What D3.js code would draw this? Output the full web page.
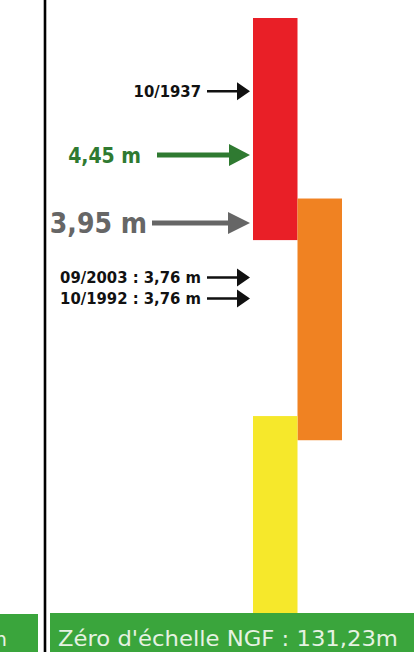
<!DOCTYPE html>
<html>
<head>
<meta charset="utf-8">
<title>Vigilance crues</title>
<script src="https://cdn.jsdelivr.net/npm/d3@7"></script>
<style>
body { margin: 0; background: #fff; }
svg { display: block; font-family: "DejaVu Sans", Verdana, sans-serif; }
.ann text { font-family: "DejaVu Sans Condensed", "DejaVu Sans", sans-serif; }
</style>
</head>
<body>
<script>

// niveaux (m a l'echelle)
var barNames = ["rouge", "orange", "jaune"];
var barColumns = ["A", "B", "A"];
var barTops = [5.46, 4.13, 2.70];
var barBottoms = [3.90, 2.50, 1.07];

// reperes
var annLabels = ["10/1937", "4,45 m", "3,95 m", "09/2003 : 3,76 m", "10/1992 : 3,76 m"];
var annValues = [4.92, 4.45, 3.95, 3.76, 3.76];
var annKinds = ["crue", "seuil", "actuel", "crue", "crue"];

var zeroLabel = "Zéro d'échelle NGF : 131,23m";

var W = 414, H = 652;

var colors = {rouge: "#e91f27", orange: "#f08222", jaune: "#f6e82b"};

var svg = d3.select("body").append("svg")
    .attr("width", W)
    .attr("height", H);

// echelle schematique (pas lineaire sur toute la hauteur)
var y = d3.scaleLinear()
    .domain([1.07, 3.76, 3.95, 4.45, 5.46])
    .range([613, 288, 223, 155, 18]);

var x = d3.scaleBand()
    .domain(["A", "B"])
    .range([253, 342])
    .padding(0);

// barres
svg.selectAll("rect.bar")
    .data(barNames)
  .enter().append("rect")
    .attr("class", "bar")
    .attr("x", function(d, i) { return x(barColumns[i]); })
    .attr("width", x.bandwidth())
    .attr("y", function(d, i) { return y(barTops[i]); })
    .attr("height", function(d, i) { return y(barBottoms[i]) - y(barTops[i]); })
    .attr("fill", function(d) { return colors[d]; });

// styles des reperes
var styles = {
  crue:   {color: "#111", size: 16.5, shaft: 2.4, head: 9, headLen: 13, x0: 207, gap: 6},
  seuil:  {color: "#2f7a31", size: 21, shaft: 5, head: 11, headLen: 21, x0: 157, gap: 16},
  actuel: {color: "#666666", size: 28, shaft: 5, head: 11, headLen: 22, x0: 152, gap: 5}
};

// decalage vertical des reperes de meme valeur
var offsets = annValues.map(function(v, i) {
  var same = annValues.filter(function(w) { return w === v; }).length;
  var idx = annValues.slice(0, i).filter(function(w) { return w === v; }).length;
  return same > 1 ? (idx - (same - 1) / 2) * 21 : 0;
});

var tipX = 250;

var ann = svg.selectAll("g.ann")
    .data(annLabels)
  .enter().append("g")
    .attr("class", "ann")
    .attr("transform", function(d, i) { return "translate(0," + (y(annValues[i]) + offsets[i]) + ")"; });

ann.append("path")
    .attr("d", function(d, i) {
      var s = styles[annKinds[i]];
      var hb = tipX - s.headLen, t = s.shaft / 2;
      return "M" + s.x0 + "," + (-t) + "L" + hb + "," + (-t) + "L" + hb + "," + (-s.head) +
             "L" + tipX + ",0L" + hb + "," + s.head + "L" + hb + "," + t + "L" + s.x0 + "," + t + "Z";
    })
    .attr("fill", function(d, i) { return styles[annKinds[i]].color; });

ann.append("text")
    .attr("x", function(d, i) { var s = styles[annKinds[i]]; return s.x0 - s.gap; })
    .attr("y", function(d, i) { return styles[annKinds[i]].size * 0.36; })
    .attr("text-anchor", "end")
    .attr("font-weight", "bold")
    .attr("font-size", function(d, i) { return styles[annKinds[i]].size; })
    .attr("fill", function(d, i) { return styles[annKinds[i]].color; })
    .text(function(d) { return d; });

// bandeaux verts
svg.append("rect")
    .attr("x", 0).attr("y", 614)
    .attr("width", 38).attr("height", H - 614)
    .attr("fill", "#3aa53c");

svg.append("rect")
    .attr("x", 50).attr("y", 613)
    .attr("width", W - 50).attr("height", H - 613)
    .attr("fill", "#3aa53c");

svg.append("text")
    .attr("x", 7).attr("y", 646)
    .attr("text-anchor", "end")
    .attr("font-size", 20)
    .attr("fill", "#e6f2e2")
    .text("m");

svg.append("text")
    .attr("x", 58).attr("y", 646)
    .attr("font-size", 21)
    .attr("fill", "#e6f2e2")
    .attr("textLength", 340)
    .attr("lengthAdjust", "spacingAndGlyphs")
    .text(zeroLabel);

// trait vertical
svg.append("line")
    .attr("x1", 45).attr("x2", 45)
    .attr("y1", 0).attr("y2", H)
    .attr("stroke", "#000")
    .attr("stroke-width", 2.6);

</script>
</body>
</html>
